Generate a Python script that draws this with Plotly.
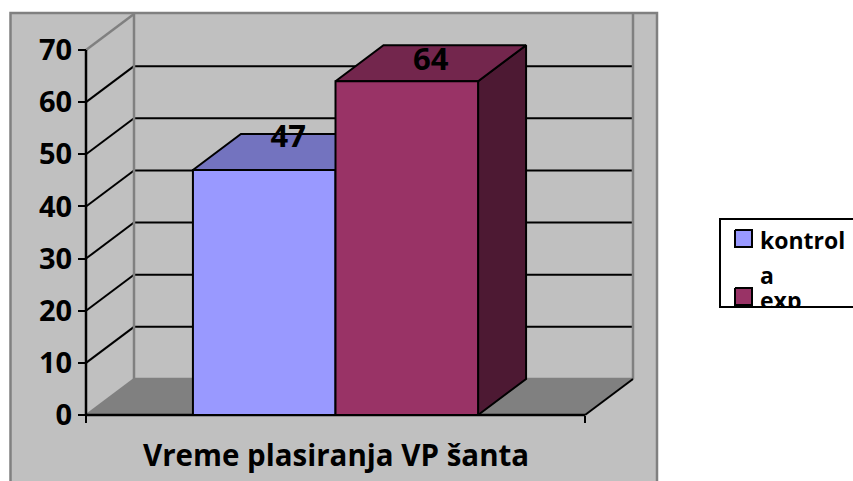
import plotly.graph_objects as go

category = "Vreme plasiranja VP šanta"
series_names = ["kontrola", "exp"]
series_values = [47, 64]
y_ticks = [0, 10, 20, 30, 40, 50, 60, 70]
front_colors = ["#9999FF", "#993366"]
top_colors = ["#7373BF", "#73264D"]
side_colors = ["#4D1933", "#4D1933"]
legend_lines = ["kontrol", "a", "exp"]

W, H = 853, 481
X0, X1 = 86, 585      # front axis pixel ends
Y0, Y70 = 415, 50     # front axis pixel ends
PX_PER_UNIT = (Y0 - Y70) / 70
PX_PER_CAT = X1 - X0
DX = 48 / PX_PER_CAT
DY = 36 / PX_PER_UNIT
GAP = 1.5
BAR_W = 1 / (len(series_values) + GAP)
FONT = "Open Sans"
GRAY = "#808080"
LABEL_LIFT_PX = [31, 19]   # data label height above each bar's front top edge


def px_x(p):
    return (p - X0) / PX_PER_CAT


def px_y(p):
    return (Y0 - p) / PX_PER_UNIT


shapes = []


def line(x0, y0, x1, y1, color="black", width=2):
    shapes.append(dict(type="line", xref="x", yref="y", x0=x0, y0=y0, x1=x1, y1=y1,
                       line=dict(color=color, width=width), layer="below"))


# chart area
shapes.append(dict(type="rect", xref="paper", yref="paper", x0=10.5 / W, x1=657 / W,
                   y0=-0.01, y1=1 - 13 / H, fillcolor="#C0C0C0",
                   line=dict(color=GRAY, width=2.5), layer="below"))
# floor
top = y_ticks[-1]
shapes.append(dict(type="path", xref="x", yref="y",
                   path=f"M0,0 L{DX},{DY} L{1 + DX},{DY} L1,0 Z",
                   fillcolor=GRAY, line=dict(width=0), layer="below"))
# gridlines
for v in y_ticks[1:-1]:
    line(0, v, DX, v + DY)
    line(DX, v + DY, 1 + DX, v + DY)
# walls
line(DX, DY, DX, top + DY, GRAY, 2.5)
line(1 + DX, DY, 1 + DX, top + DY, GRAY, 2.5)
line(0, top, DX, top + DY, GRAY, 2.5)
line(0, 0, DX, DY, GRAY, 2)
line(DX, DY, 1 + DX, DY, GRAY, 2.5)
# axis lines
line(0, 0, 1, 0, "black", 2.5)
line(1, 0, 1 + DX, DY, "black", 2)
line(0, 0, 0, top, "black", 2.5)

fig = go.Figure()
outline = dict(color="black", width=2)
for i, (name, v) in enumerate(zip(series_names, series_values)):
    x_l = (GAP / 2 + i) * BAR_W
    x_r = x_l + BAR_W
    fig.add_trace(go.Scatter(
        x=[x_r, x_r + DX, x_r + DX, x_r, x_r], y=[0, DY, v + DY, v, 0],
        mode="lines", fill="toself", fillcolor=side_colors[i], line=outline,
        hoverinfo="skip"))
    fig.add_trace(go.Scatter(
        x=[x_l, x_l + DX, x_r + DX, x_r, x_l], y=[v, v + DY, v + DY, v, v],
        mode="lines", fill="toself", fillcolor=top_colors[i], line=outline,
        hoverinfo="skip"))
    fig.add_trace(go.Scatter(
        x=[x_l, x_l, x_r, x_r, x_l], y=[0, v, v, 0, 0], name=name,
        mode="lines", fill="toself", fillcolor=front_colors[i], line=outline))

# data labels
for i, v in enumerate(series_values):
    x_l = (GAP / 2 + i) * BAR_W
    fig.add_trace(go.Scatter(
        x=[x_l + BAR_W / 2 + DX / 2], y=[v + LABEL_LIFT_PX[i] / PX_PER_UNIT],
        mode="text", text=[f"<b>{v}</b>"], textposition="middle center", cliponaxis=False,
        textfont=dict(family=FONT, size=31, color="black"), hoverinfo="skip"))

# legend on its own small axes so that its contents clip at the box
LX0, LY0, LX1, LY1 = 720, 219, W, 307
LEG_SIZE = 23
for i, text in enumerate(legend_lines):
    fig.add_trace(go.Scatter(
        x=[760], y=[[243, 278, 303][i]], xaxis="x2", yaxis="y2", mode="text", text=[f"<b>{text}</b>"],
        textposition="middle right",
        textfont=dict(family=FONT, size=LEG_SIZE, color="black"), hoverinfo="skip"))
for color, y_top, y_bot in [(front_colors[0], 230, 247), (front_colors[1], 288, 305)]:
    fig.add_trace(go.Scatter(
        x=[735, 752, 752, 735, 735], y=[y_top, y_top, y_bot, y_bot, y_top], xaxis="x2", yaxis="y2",
        mode="lines", fill="toself", fillcolor=color, line=outline, hoverinfo="skip"))

shapes.append(dict(type="rect", xref="paper", yref="paper", x0=LX0 / W, x1=1.01,
                   y0=1 - LY1 / H, y1=1 - LY0 / H, fillcolor="white",
                   line=dict(color="black", width=2), layer="below"))

fig.update_layout(
    width=W, height=H, margin=dict(l=0, r=0, t=0, b=0), showlegend=False,
    paper_bgcolor="white", plot_bgcolor="rgba(0,0,0,0)", shapes=shapes,
    font=dict(family=FONT, color="black"),
    xaxis=dict(domain=[0, 1], range=[px_x(0), px_x(W)], anchor="free", position=(H - Y0) / H,
               showgrid=False, zeroline=False, showline=False, tickmode="array",
               tickvals=[0, 1], ticktext=["", ""], ticks="outside", ticklen=7, tickwidth=2,
               tickcolor="black"),
    yaxis=dict(domain=[0, 1], range=[px_y(H), px_y(0)], anchor="free", position=X0 / W,
               showgrid=False, zeroline=False, showline=False, tickmode="array",
               tickvals=y_ticks, ticktext=[f"<b>{t}</b>" for t in y_ticks],
               ticks="outside", ticklen=8, tickwidth=2, tickcolor="black",
               tickfont=dict(family=FONT, size=29, color="black")),
    xaxis2=dict(domain=[LX0 / W, 1], range=[LX0, LX1], anchor="y2", visible=False),
    yaxis2=dict(domain=[1 - LY1 / H, 1 - LY0 / H], range=[LY1, LY0], anchor="x2", visible=False),
    annotations=[dict(xref="x", yref="paper", x=0.5, y=1 - 454 / H, text=f"<b>{category}</b>", showarrow=False,
                      font=dict(family=FONT, size=29.5, color="black"),
                      xanchor="center", yanchor="middle")],
)
fig.write_html("out.html", post_script="document.body.style.margin='0';",
               config={"displayModeBar": False})
